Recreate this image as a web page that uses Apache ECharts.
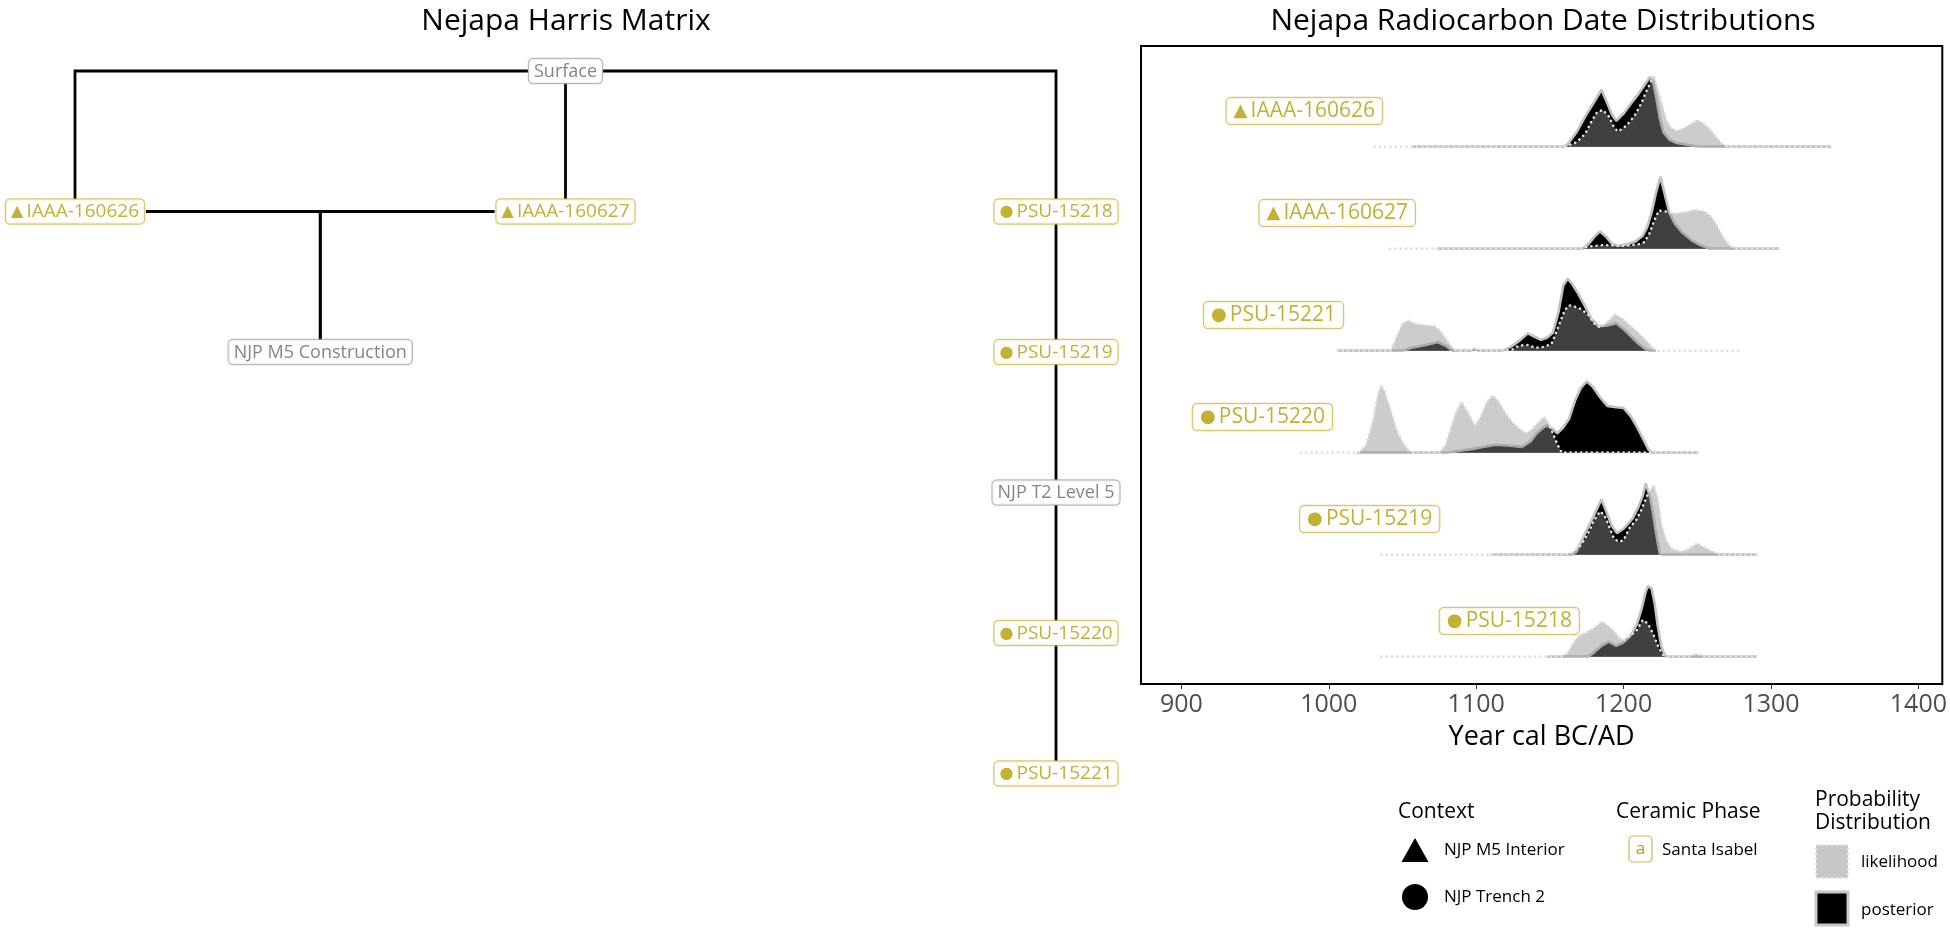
<!DOCTYPE html>
<html>
<head>
<meta charset="utf-8">
<script src="https://cdn.jsdelivr.net/npm/echarts@6.0.0/dist/echarts.min.js"></script>
<style>
html,body{margin:0;padding:0;background:#fff;}
#chart{width:1950px;height:928px;}
</style>
</head>
<body>
<div id="chart"></div>
<script>
// ---------------- DATA ----------------
// Ridge rows, bottom to top
const sampleNames = ['PSU-15218', 'PSU-15219', 'PSU-15220', 'PSU-15221', 'IAAA-160627', 'IAAA-160626'];
const sampleContext = ['circle', 'circle', 'circle', 'circle', 'triangle', 'triangle'];
// label anchor (year) for each row's sample label
const sampleLabelYear = [1122.5, 1027.7, 955, 962.5, 1005.7, 983.4];

// [year, relative density]
const lik15218 = [[1035.7,0],[1158,0],[1162,0.05],[1166,0.2],[1170,0.3],[1175,0.34],[1180,0.4],[1185,0.49],[1189,0.44],[1193,0.37],[1197,0.27],[1200,0.23],[1204,0.28],[1209,0.37],[1213,0.51],[1216.5,0.46],[1220,0.32],[1223.5,0.14],[1227,0.02],[1230,0],[1244,0],[1249,0.04],[1254,0.01],[1258,0],[1290.2,0]];
const post15218 = [[1148.3,0],[1176,0],[1180,0.06],[1185,0.15],[1190,0.21],[1195,0.15],[1200,0.2],[1205,0.3],[1209,0.45],[1212,0.65],[1215,0.9],[1216.5,0.98],[1219,0.95],[1221,0.75],[1223,0.45],[1225.5,0.15],[1228,0.02],[1230,0],[1290.2,0]];

const lik15219 = [[1035.7,0],[1160,0],[1165,0.03],[1171,0.13],[1176,0.3],[1180,0.48],[1184,0.6],[1187,0.55],[1190,0.4],[1193.5,0.22],[1197,0.18],[1200,0.2],[1204,0.37],[1208.5,0.48],[1212,0.62],[1216.5,0.85],[1220.5,0.97],[1223.5,0.76],[1226,0.4],[1229,0.2],[1233,0.08],[1239,0.04],[1244,0.08],[1250,0.16],[1256,0.09],[1263,0.02],[1267,0],[1290.2,0]];
const post15219 = [[1109.8,0],[1165,0],[1168,0.04],[1174,0.3],[1180,0.55],[1185,0.77],[1189,0.56],[1192,0.4],[1195.5,0.3],[1200,0.36],[1206,0.5],[1210,0.66],[1213,0.82],[1215,0.99],[1218,0.8],[1220,0.57],[1222,0.3],[1224.5,0.02],[1226,0],[1290.2,0]];

const lik15220 = [[981,0],[1020,0],[1025,0.1],[1030,0.45],[1033,0.8],[1035.5,0.94],[1038,0.85],[1042,0.6],[1046,0.32],[1050,0.15],[1054,0.04],[1057,0],[1075,0],[1079,0.1],[1082,0.3],[1086,0.55],[1090,0.71],[1094,0.58],[1099,0.38],[1103,0.5],[1107,0.7],[1111,0.8],[1115,0.72],[1120,0.55],[1124,0.44],[1129,0.34],[1134,0.27],[1138,0.33],[1142,0.42],[1146,0.5],[1149,0.42],[1152,0.27],[1155,0.12],[1158,0],[1250.4,0]];
const post15220 = [[1019,0],[1080,0],[1090,0.03],[1100,0.06],[1113,0.11],[1122,0.1],[1131,0.08],[1137,0.16],[1141,0.27],[1145,0.34],[1148,0.38],[1152,0.33],[1155,0.27],[1159,0.35],[1163,0.47],[1167,0.72],[1171,0.9],[1175,0.99],[1179,0.92],[1184,0.77],[1189,0.65],[1195,0.63],[1200,0.62],[1205,0.5],[1209,0.36],[1213,0.2],[1217,0.04],[1219,0],[1250.4,0]];

const lik15221 = [[1006,0],[1042,0],[1046,0.2],[1050,0.38],[1054,0.42],[1058,0.38],[1063,0.36],[1068,0.35],[1072,0.34],[1076,0.27],[1080,0.15],[1084,0.04],[1087,0],[1095,0],[1099,0.03],[1103,0],[1120,0],[1124,0.01],[1129,0.07],[1135,0.08],[1140,0.04],[1145,0.05],[1151,0.09],[1154,0.24],[1157,0.4],[1160,0.56],[1163,0.63],[1167,0.61],[1171,0.58],[1176,0.5],[1180,0.38],[1184,0.32],[1189,0.4],[1194,0.51],[1199,0.45],[1204,0.36],[1209,0.27],[1214,0.17],[1219,0.06],[1222,0],[1280.5,0]];
const post15221 = [[1006,0],[1050,0],[1056,0.04],[1066,0.08],[1074,0.12],[1080,0.06],[1084,0],[1096,0],[1099,0.02],[1102,0],[1118,0],[1124,0.06],[1130,0.15],[1135,0.24],[1140,0.19],[1144,0.15],[1148,0.18],[1152,0.25],[1156,0.55],[1159,0.9],[1162,1.0],[1165,0.93],[1169,0.8],[1173,0.65],[1178,0.45],[1183,0.34],[1189,0.35],[1195,0.38],[1200,0.3],[1205,0.2],[1210,0.1],[1215,0.02],[1218,0],[1222,0]];

const lik160627 = [[1041.6,0],[1170,0],[1176,0.03],[1186,0.05],[1200,0.04],[1210,0.06],[1214,0.09],[1217.5,0.21],[1220,0.35],[1222,0.45],[1224,0.53],[1228,0.52],[1232,0.5],[1236,0.49],[1242,0.51],[1248,0.54],[1255,0.52],[1259,0.46],[1262,0.37],[1265,0.26],[1268,0.15],[1272,0.04],[1276,0],[1305.6,0]];
const post160627 = [[1073,0],[1172,0],[1176,0.06],[1180,0.16],[1184,0.24],[1188,0.17],[1192,0.07],[1196,0.04],[1202,0.06],[1208,0.1],[1213,0.18],[1216,0.3],[1219,0.5],[1222,0.78],[1225,1.0],[1228,0.75],[1231,0.5],[1235,0.34],[1240,0.22],[1246,0.12],[1252,0.05],[1258,0],[1305.6,0]];

const lik160626 = [[1031,0],[1160,0],[1168,0.06],[1174,0.18],[1178,0.34],[1182,0.48],[1186,0.51],[1190,0.42],[1193,0.29],[1196,0.21],[1200,0.26],[1204,0.34],[1208,0.45],[1212,0.6],[1215,0.75],[1218,0.88],[1220.5,1.0],[1223,0.82],[1226,0.6],[1229,0.38],[1232,0.27],[1236,0.22],[1240,0.25],[1245,0.31],[1250,0.37],[1254,0.33],[1258,0.26],[1262,0.16],[1266,0.06],[1270,0],[1340.6,0]];
const post160626 = [[1057,0],[1159,0],[1162,0.03],[1168,0.2],[1174,0.42],[1180,0.62],[1185,0.79],[1189,0.6],[1192,0.45],[1195,0.36],[1200,0.46],[1205,0.6],[1210,0.73],[1214,0.85],[1218,0.97],[1220,0.9],[1222,0.7],[1224.5,0.4],[1227,0.2],[1231,0.1],[1236,0.05],[1242,0.03],[1248,0.01],[1252,0],[1340.6,0]];

const likelihoods = [lik15218, lik15219, lik15220, lik15221, lik160627, lik160626];
const posteriors = [post15218, post15219, post15220, post15221, post160627, post160626];

const xTickValues = [900, 1000, 1100, 1200, 1300, 1400];

// Harris matrix
const nodeNames = ['Surface', 'IAAA-160626', 'IAAA-160627', 'PSU-15218', 'NJP M5 Construction', 'PSU-15219', 'NJP T2 Level 5', 'PSU-15220', 'PSU-15221'];
const nodeCol = [2, 0, 2, 4, 1, 4, 4, 4, 4];
const nodeLevel = [0, 1, 1, 1, 2, 2, 3, 4, 5];
const nodeKind = ['unit', 'triangle', 'triangle', 'circle', 'unit', 'circle', 'unit', 'circle', 'circle'];
const edges = [
  ['Surface', 'IAAA-160626'], ['Surface', 'IAAA-160627'], ['Surface', 'PSU-15218'],
  ['IAAA-160626', 'NJP M5 Construction'], ['IAAA-160627', 'NJP M5 Construction'],
  ['PSU-15218', 'PSU-15219'], ['PSU-15219', 'NJP T2 Level 5'], ['NJP T2 Level 5', 'PSU-15220'], ['PSU-15220', 'PSU-15221']
];

// ---------------- STYLE / LAYOUT ----------------
const FONT = '"Open Sans", "Noto Sans", sans-serif';
const GOLD = '#b39d00';
const GOLD_BORDER = '#cdb94d';
const RIDGE_SCALE = 0.706;   // peak height in row units
const LABEL_LIFT = 0.35;     // sample label offset above baseline, row units

const HARRIS_GRID = { left: 75, top: 71, width: 981, height: 702.5 };
const HX = [0, 4], HY = [0, 5];
const pxPerX = HARRIS_GRID.width / (HX[1] - HX[0]);
const pxPerY = HARRIS_GRID.height / (HY[1] - HY[0]);

const NODE_PAD_X = 5, NODE_H = 24;
const SYM_SIZE = 16, TXT_SIZE = 19, UNIT_SIZE = 18;

const symChar = k => k === 'triangle' ? '\u25B2' : '\u25CF';

const mctx = document.createElement('canvas').getContext('2d');
function textW(text, size, family) { mctx.font = size + 'px ' + family; return mctx.measureText(text).width; }
function nodeHalfW(i) {
  const k = nodeKind[i], n = nodeNames[i];
  const w = k === 'unit' ? textW(n, UNIT_SIZE, FONT)
                         : textW(symChar(k), SYM_SIZE, '"DejaVu Sans"') + textW(' ' + n, TXT_SIZE, FONT);
  return (w / 2 + NODE_PAD_X + 1) / pxPerX;   // in x data units
}
const halfH = (NODE_H / 2) / pxPerY;           // in level units

const ridgeSeries = [];
sampleNames.forEach((name, r) => {
  ridgeSeries.push({
    type: 'line', xAxisIndex: 0, yAxisIndex: 0, name: name + ' posterior',
    data: posteriors[r].map(p => [p[0], r + p[1] * RIDGE_SCALE]),
    symbol: 'none', silent: true, z: 2,
    lineStyle: { color: '#c2c2c2', width: 2.6 },
    areaStyle: { color: '#000', opacity: 1, origin: r }
  });
  ridgeSeries.push({
    type: 'line', xAxisIndex: 0, yAxisIndex: 0, name: name + ' likelihood',
    data: likelihoods[r].map(p => [p[0], r + p[1] * RIDGE_SCALE]),
    symbol: 'none', silent: true, z: 3,
    lineStyle: { color: '#e0e0e0', width: 2.6, type: [0.1, 5.2], cap: 'round' },
    areaStyle: { color: 'rgba(142,142,142,0.45)', opacity: 1, origin: r }
  });
});

const boxLabel = (border) => ({ backgroundColor: '#ffffff', borderColor: border, borderWidth: 1.2, borderRadius: 4 });

// sample labels in the ridge panel
ridgeSeries.push({
  type: 'scatter', xAxisIndex: 0, yAxisIndex: 0, z: 10, silent: true,
  symbolSize: 1, itemStyle: { color: 'rgba(0,0,0,0)' },
  data: sampleNames.map((n, r) => ({ value: [sampleLabelYear[r], r + LABEL_LIFT], name: n, kind: sampleContext[r] })),
  label: Object.assign({
    show: true, position: 'inside',
    formatter: p => '{s|' + symChar(p.data.kind) + '} {t|' + p.name + '}',
    padding: [3, 7, 2, 7],
    rich: {
      s: { fontFamily: 'DejaVu Sans', fontSize: 18, color: GOLD, lineHeight: 21 },
      t: { fontFamily: FONT, fontSize: 21, color: GOLD, lineHeight: 21 }
    }
  }, boxLabel(GOLD_BORDER))
});

// Harris matrix edges: elbow connectors that stop at the node boxes
const idx = n => nodeNames.indexOf(n);
const harrisEdgeSeries = edges.map(([a, b]) => {
  const ia = idx(a), ib = idx(b);
  const px = nodeCol[ia], py = nodeLevel[ia], cx = nodeCol[ib], cy = nodeLevel[ib];
  let pts;
  if (px === cx) {
    pts = [[px, py + halfH], [cx, cy - halfH]];
  } else {
    const s = cx > px ? 1 : -1;
    pts = [[px + s * nodeHalfW(ia), py], [cx, py], [cx, cy - halfH]];
  }
  return {
    type: 'line', xAxisIndex: 1, yAxisIndex: 1, silent: true, z: 1,
    symbol: 'none', clip: false,
    lineStyle: { color: '#000', width: 2.8, cap: 'butt', join: 'miter' },
    data: pts
  };
});
const harrisNodes = {
  type: 'scatter', xAxisIndex: 1, yAxisIndex: 1, z: 10, silent: true,
  symbolSize: 1, itemStyle: { color: 'rgba(0,0,0,0)' },
  data: nodeNames.map((n, i) => {
    const dated = nodeKind[i] !== 'unit';
    return {
      value: [nodeCol[i], nodeLevel[i]], name: n,
      label: Object.assign({
        show: true, position: 'inside',
        formatter: dated ? '{s|' + symChar(nodeKind[i]) + '} {t|' + n + '}' : '{g|' + n + '}',
        padding: [3, NODE_PAD_X, 2, NODE_PAD_X],
        rich: {
          s: { fontFamily: 'DejaVu Sans', fontSize: SYM_SIZE, color: GOLD, lineHeight: 19 },
          t: { fontFamily: FONT, fontSize: TXT_SIZE, color: GOLD, lineHeight: 19 },
          g: { fontFamily: FONT, fontSize: UNIT_SIZE, color: '#666', lineHeight: 19 }
        }
      }, boxLabel(dated ? GOLD_BORDER : '#a8a8a8'))
    };
  })
};

// Legend (graphic)
const txt = (x, y, text, size, color, align) => ({
  type: 'text', x: x, y: y, silent: true,
  style: { text: text, fontFamily: FONT, fontSize: size, fill: color || '#000', align: align || 'left', verticalAlign: 'middle' }
});
const graphics = [
  txt(566, 21, 'Nejapa Harris Matrix', 30, '#000', 'center'),
  txt(1543, 21, 'Nejapa Radiocarbon Date Distributions', 30, '#000', 'center'),
  txt(1398, 812, 'Context', 21),
  { type: 'polygon', silent: true, shape: { points: [[1415, 838], [1428.5, 862], [1401.5, 862]] }, style: { fill: '#000' } },
  txt(1444, 850, 'NJP M5 Interior', 17),
  { type: 'circle', silent: true, shape: { cx: 1415, cy: 897, r: 13 }, style: { fill: '#000' } },
  txt(1444, 897, 'NJP Trench 2', 17),
  txt(1616, 812, 'Ceramic Phase', 21),
  { type: 'rect', silent: true, shape: { x: 1629, y: 836, width: 23, height: 26, r: 4 }, style: { fill: '#fff', stroke: GOLD_BORDER, lineWidth: 1.2 } },
  txt(1640.5, 849, 'a', 17, GOLD, 'center'),
  txt(1662, 850, 'Santa Isabel', 17),
  txt(1815, 800, 'Probability', 21),
  txt(1815, 823, 'Distribution', 21),
  { type: 'rect', silent: true, shape: { x: 1816, y: 845, width: 32, height: 33 }, style: { fill: '#c8c8c8', stroke: '#e4e4e4', lineWidth: 2, lineDash: [2, 3] } },
  txt(1861, 862, 'likelihood', 17),
  { type: 'rect', silent: true, shape: { x: 1816, y: 892, width: 32, height: 33 }, style: { fill: '#000', stroke: '#c8c8c8', lineWidth: 3 } },
  txt(1861, 910, 'posterior', 17)
];

const option = {
  animation: false,
  backgroundColor: '#fff',
  textStyle: { fontFamily: FONT },
  grid: [
    { left: 1141, top: 46, width: 805, height: 638, show: true, borderColor: '#000', borderWidth: 2, backgroundColor: 'rgba(0,0,0,0)', containLabel: false },
    Object.assign({ show: false, containLabel: false }, HARRIS_GRID)
  ],
  xAxis: [
    {
      type: 'value', gridIndex: 0, min: 872.6, max: 1416.2, position: 'bottom',
      axisLine: { show: false, onZero: false },
      splitLine: { show: false },
      axisTick: { show: true, length: 5, lineStyle: { color: '#333', width: 1 }, customValues: xTickValues },
      axisLabel: { show: true, fontSize: 25, color: '#4d4d4d', margin: 8, fontFamily: FONT, customValues: xTickValues, formatter: v => String(v) },
      name: 'Year cal BC/AD', nameLocation: 'middle', nameGap: 40,
      nameTextStyle: { fontSize: 27, color: '#000', fontFamily: FONT }
    },
    { type: 'value', gridIndex: 1, min: HX[0], max: HX[1], show: false, axisLine: { onZero: false } }
  ],
  yAxis: [
    { type: 'value', gridIndex: 0, min: -0.268, max: 5.987, show: false, axisLine: { onZero: false } },
    { type: 'value', gridIndex: 1, min: HY[0], max: HY[1], inverse: true, show: false, axisLine: { onZero: false } }
  ],
  series: ridgeSeries.concat(harrisEdgeSeries, [harrisNodes]),
  graphic: graphics
};

const chart = echarts.init(document.getElementById('chart'), null, { renderer: 'canvas' });
chart.setOption(option);
</script>
</body>
</html>
